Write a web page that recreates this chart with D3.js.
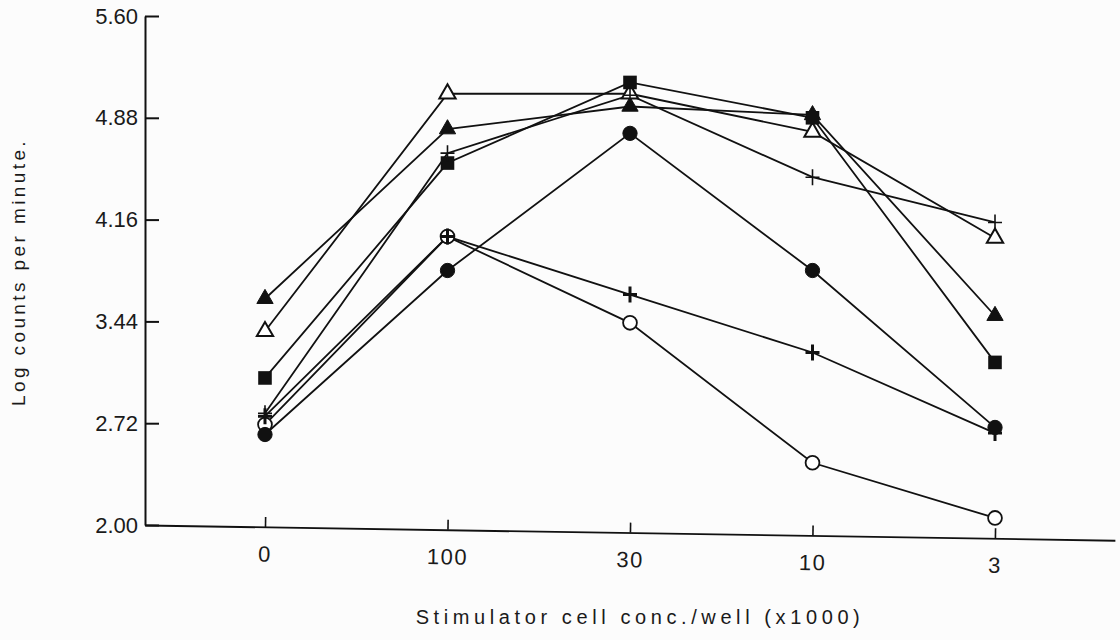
<!DOCTYPE html>
<html>
<head>
<meta charset="utf-8">
<script src="https://cdn.jsdelivr.net/npm/d3@7"></script>
<style>
  html, body { margin: 0; padding: 0; background: #fcfcfc; }
  svg { display: block; }
  text { font-family: "Liberation Sans", "DejaVu Sans", sans-serif; fill: #1a1a1a; }
</style>
</head>
<body>
<svg id="chart" width="1120" height="640"></svg>
<script>
// ---- data ----
const categories = ["0", "100", "30", "10", "3"];
const yTicks = [2.00, 2.72, 3.44, 4.16, 4.88, 5.60];

const filledTriangle = [3.60, 4.80, 4.96, 4.90, 3.48];
const openTriangle   = [3.37, 5.05, 5.05, 4.78, 4.03];
const filledSquare   = [3.04, 4.56, 5.13, 4.88, 3.15];
const plusUpper      = [2.79, 4.63, 5.04, 4.46, 4.14];
const openCircle     = [2.71, 4.04, 3.43, 2.44, 2.05];
const plusLower      = [2.77, 4.04, 3.63, 3.22, 2.65];
const filledCircle   = [2.64, 3.80, 4.77, 3.80, 2.69];

const xTitle = "Stimulator cell conc./well (x1000)";
const yTitle = "Log counts per minute.";

const series = [
  { name: "filledTriangle", values: filledTriangle, marker: "triangle", fill: "#111" },
  { name: "openTriangle",   values: openTriangle,   marker: "triangle", fill: "#fff" },
  { name: "filledSquare",   values: filledSquare,   marker: "square",   fill: "#111" },
  { name: "plusUpper",      values: plusUpper,      marker: "plus",     width: 1.6 },
  { name: "openCircle",     values: openCircle,     marker: "circle",   fill: "#fff" },
  { name: "plusLower",      values: plusLower,      marker: "plus",     width: 3 },
  { name: "filledCircle",   values: filledCircle,   marker: "circle",   fill: "#111" }
];

// ---- layout ----
const svg = d3.select("#chart");
const x0 = 145, yBottom = 525, yTop = 16;

const x = d3.scalePoint().domain(categories).range([x0, 1115]).padding(0.6575);
const y = d3.scaleLinear().domain([2.0, 5.6]).range([yBottom, yTop]);

// y axis
const yAxis = d3.axisLeft(y).tickValues(yTicks).tickFormat(d3.format(".2f"))
  .tickSizeInner(-14).tickSizeOuter(0).tickPadding(7);
const gy = svg.append("g").attr("transform", `translate(${x0},0)`).call(yAxis);
gy.select(".domain").attr("stroke", "#111").attr("stroke-width", 2);
gy.selectAll(".tick line").attr("stroke", "#111").attr("stroke-width", 2);
gy.selectAll(".tick text").attr("font-size", 22).attr("fill", "#1a1a1a")
  .style("font-family", '"Liberation Sans", sans-serif');

// x axis (slightly skewed like the scan)
const xAxis = d3.axisBottom(x).tickSizeInner(-10).tickSizeOuter(0).tickPadding(19);
const gx = svg.append("g").attr("transform", `translate(0,${yBottom}) rotate(0.9,${x0},0)`).call(xAxis);
gx.select(".domain").attr("stroke", "#111").attr("stroke-width", 1.8);
gx.selectAll(".tick line").attr("stroke", "#111").attr("stroke-width", 1.6);
gx.selectAll(".tick text").attr("font-size", 22).attr("letter-spacing", 1.5).attr("fill", "#1a1a1a")
  .style("font-family", '"Liberation Sans", sans-serif');

// titles
svg.append("text")
  .attr("x", 640).attr("y", 624).attr("text-anchor", "middle")
  .attr("font-size", 20).attr("letter-spacing", 4.6).attr("fill", "#222")
  .text(xTitle);
svg.append("text")
  .attr("transform", "translate(25,272) rotate(-90)")
  .attr("text-anchor", "middle")
  .attr("font-size", 19).attr("letter-spacing", 3.4).attr("fill", "#333")
  .text(yTitle);

// lines
const line = d3.line().x((d, i) => x(categories[i])).y(d => y(d));
svg.append("g").selectAll("path").data(series).join("path")
  .attr("d", s => line(s.values))
  .attr("fill", "none").attr("stroke", "#111").attr("stroke-width", 1.8);

// markers
const triPath = d3.symbol().type(d3.symbolTriangle).size(115)();
const sqPath = d3.symbol().type(d3.symbolSquare).size(185)();
const circFilled = d3.symbol().type(d3.symbolCircle).size(160)();
const circOpen = d3.symbol().type(d3.symbolCircle).size(150)();

series.forEach(s => {
  const g = svg.append("g");
  s.values.forEach((v, i) => {
    const px = x(categories[i]), py = y(v);
    const t = `translate(${px},${py})`;
    if (s.marker === "triangle") {
      g.append("path").attr("d", triPath).attr("transform", t)
        .attr("fill", s.fill).attr("stroke", "#111").attr("stroke-width", s.fill === "#fff" ? 2 : 1);
    } else if (s.marker === "square") {
      g.append("path").attr("d", sqPath).attr("transform", t).attr("fill", s.fill);
    } else if (s.marker === "circle") {
      g.append("path").attr("d", s.fill === "#fff" ? circOpen : circFilled).attr("transform", t)
        .attr("fill", s.fill).attr("stroke", "#111").attr("stroke-width", s.fill === "#fff" ? 1.8 : 1);
    } else if (s.marker === "plus") {
      g.append("path").attr("d", "M-7,0H7M0,-8V8").attr("transform", t)
        .attr("fill", "none").attr("stroke", "#111").attr("stroke-width", s.width);
    }
  });
});
</script>
</body>
</html>
